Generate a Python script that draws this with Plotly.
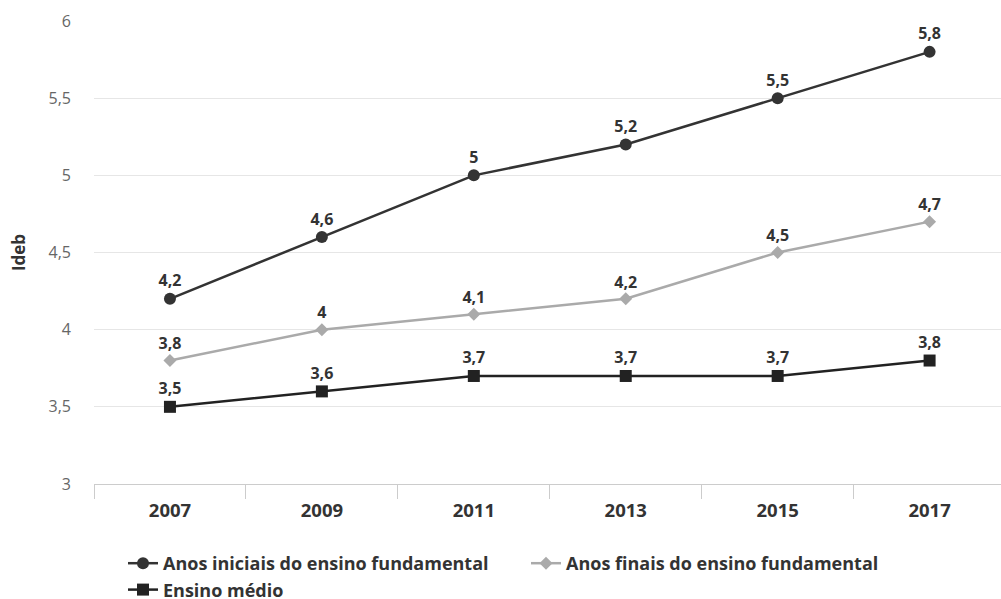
import plotly.graph_objects as go

years = ["2007", "2009", "2011", "2013", "2015", "2017"]
anos_iniciais = [4.2, 4.6, 5.0, 5.2, 5.5, 5.8]
anos_finais = [3.8, 4.0, 4.1, 4.2, 4.5, 4.7]
ensino_medio = [3.5, 3.6, 3.7, 3.7, 3.7, 3.8]
y_ticks = [3, 3.5, 4, 4.5, 5, 5.5, 6]

def fmt(v):
    return ("%g" % v).replace(".", ",")

FONT = "Open Sans"
fig = go.Figure()
series = [
    ("Anos iniciais do ensino fundamental", anos_iniciais, "#333333", "circle", 12),
    ("Anos finais do ensino fundamental", anos_finais, "#aaaaaa", "diamond", 10),
    ("Ensino médio", ensino_medio, "#222222", "square", 12),
]
for name, vals, color, sym, size in series:
    fig.add_trace(go.Scatter(
        x=years, y=vals, name=name, mode="lines+markers+text",
        line=dict(color=color, width=2.5),
        marker=dict(color=color, symbol=sym, size=size),
        text=[fmt(v) for v in vals], textposition="top center",
        textfont=dict(family=FONT, size=16, color="#333333", weight="bold"),
        cliponaxis=False,
    ))

fig.update_layout(
    width=1001, height=599,
    margin=dict(l=94, r=0, t=21, b=115),
    paper_bgcolor="white", plot_bgcolor="white",
    separators=",.",
    font=dict(family=FONT, color="#333333"),
    showlegend=True,
    legend=dict(orientation="h", xref="container", yref="container",
                x=123/1001, y=1 - 545/599, xanchor="left", yanchor="top",
                font=dict(family=FONT, size=18, color="#333333", weight="bold"),
                itemwidth=30, tracegroupgap=0, entrywidth=358, entrywidthmode="pixels"),
)
fig.update_xaxes(
    type="category", range=[-0.5, 5.47],
    tickson="boundaries", ticks="outside", ticklen=14, tickcolor="#cccccc",
    showline=True, linecolor="#cccccc", linewidth=1,
    showgrid=False,
    tickfont=dict(family=FONT, size=18.5, color="#333333", weight="bold"),
    ticklabelstandoff=10,
)
fig.update_yaxes(
    range=[3, 6], tickvals=y_ticks,
    showgrid=True, gridcolor="#e6e6e6", gridwidth=1,
    zeroline=False, showline=False,
    tickfont=dict(family=FONT, size=16, color="#666666"),
    ticklabelstandoff=22,
    title=dict(text="Ideb", font=dict(family=FONT, size=17, color="#333333", weight="bold"), standoff=18),
)
fig.write_html("out.html")
